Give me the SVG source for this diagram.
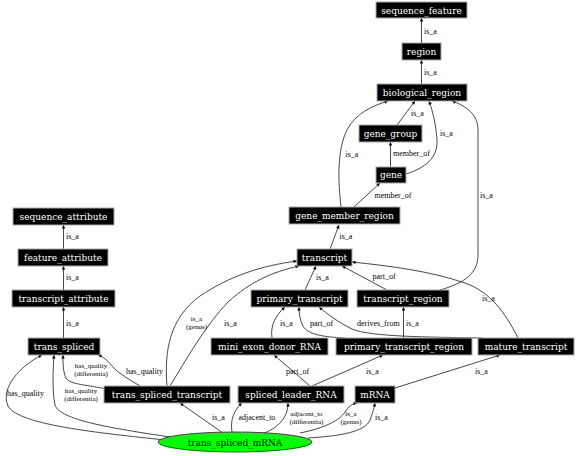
<svg xmlns="http://www.w3.org/2000/svg" width="576" height="456" viewBox="0 0 576 456">
<defs>
<marker id="arr" viewBox="0 0 10 10" refX="10" refY="5" markerWidth="4.5" markerHeight="3.5" markerUnits="userSpaceOnUse" orient="auto">
<path d="M0,0 L10,5 L0,10 z" fill="#000"/>
</marker>
</defs>
<style>
.n rect{fill:#000;stroke:#aaa;stroke-width:1}
.n text{fill:#fff;font-family:"DejaVu Serif",serif;font-size:9px;text-anchor:middle}
.e path{fill:none;stroke:#333;stroke-width:0.9;marker-end:url(#arr)}
.l text{font-family:"Liberation Serif",serif;font-size:8px;fill:#000}
.l .m{text-anchor:middle;font-size:7px}
</style>
<rect width="576" height="456" fill="#fff"/>
<g id="connectors" class="e">
<path d="M421.5,43 L421.5,18"/>
<path d="M421.5,84 L421.5,60"/>
<path d="M397,125 L415,101"/>
<path d="M390.5,167 L390.5,142"/>
<path d="M406,174 C425,168 438,158 437,140 C436,125 433,112 429,101"/>
<path d="M354,207 L380,183"/>
<path d="M341,207 C338,180 337,150 347,130 C356,113 372,106 388,101"/>
<path d="M440,290 C465,283 478,273 478,255 L478,130 C478,114 466,106 452,101"/>
<path d="M330,249 L339,225"/>
<path d="M305,290 L316,266"/>
<path d="M387,290 L342,266"/>
<path d="M518,338 C505,312 490,292 465,283 C430,271 390,266 352,262"/>
<path d="M167,386 C164,350 170,318 200,296 C230,276 260,266 297,261"/>
<path d="M170,386 C186,360 205,326 228,302 C250,282 272,272 299,266"/>
<path d="M272,338 C270,325 276,315 285,307"/>
<path d="M345,338 C325,337 308,335 303,326 C300,320 299,314 299,307"/>
<path d="M403.5,338 L403.5,307"/>
<path d="M482,338 C430,337 370,337 352,329 C338,322 327,314 319,307"/>
<path d="M310,386 L274,355"/>
<path d="M312,386 L383,355"/>
<path d="M395,388 L500,355"/>
<path d="M140,386 C130,380 118,373 113,367 C108,361 104,357 98,355"/>
<path d="M106,389 C90,385 70,385 66,378 C63,372 63,363 63,355"/>
<path d="M165,440 C100,433 18,425 8,406 C0,388 20,366 42,355"/>
<path d="M170,437 C110,428 60,420 55,405 C52,390 53,370 54,355"/>
<path d="M223,433 L180,403"/>
<path d="M232,432 C230,420 234,410 242,403"/>
<path d="M262,434 C278,428 288,418 288,403"/>
<path d="M300,433 C325,428 340,420 345,412 C349,406 352,404 357,403"/>
<path d="M308,438 C340,436 365,432 370,420 C373,412 374,408 375,403"/>
<path d="M63.5,249 L63.5,225"/>
<path d="M63.5,290 L63.5,266"/>
<path d="M63.5,338 L63.5,307"/>
</g>
<g id="labels" class="l">
<text x="424" y="33.5">is_a</text>
<text x="424" y="74.5">is_a</text>
<text x="411" y="115.5">is_a</text>
<text x="440" y="136">is_a</text>
<text x="393" y="156">member_of</text>
<text x="374.5" y="198">member_of</text>
<text x="345.5" y="157">is_a</text>
<text x="480" y="198">is_a</text>
<text x="339.5" y="239">is_a</text>
<text x="316" y="280">is_a</text>
<text x="372.5" y="279">part_of</text>
<text x="482" y="301">is_a</text>
<text class="m" x="196.5" y="320.5">is_a<tspan x="196.5" dy="8">(genus)</tspan></text>
<text x="224" y="325.5">is_a</text>
<text x="280" y="325.5">is_a</text>
<text x="310" y="325.5">part_of</text>
<text x="357" y="325.5">derives_from</text>
<text x="406" y="325.5">is_a</text>
<text x="286" y="373.5">part_of</text>
<text x="366" y="373.5">is_a</text>
<text x="475" y="373.5">is_a</text>
<text x="126" y="373.5">has_quality</text>
<text class="m" x="91" y="368">has_quality<tspan x="91" dy="8">(differentia)</tspan></text>
<text x="7" y="396">has_quality</text>
<text class="m" x="81" y="392.5">has_quality<tspan x="81" dy="8">(differentia)</tspan></text>
<text x="212" y="420">is_a</text>
<text x="238.5" y="420">adjacent_to</text>
<text class="m" x="306.5" y="416">adjacent_to<tspan x="306.5" dy="8">(differentia)</tspan></text>
<text class="m" x="351" y="416">is_a<tspan x="351" dy="8">(genus)</tspan></text>
<text x="375" y="420">is_a</text>
<text x="66" y="239">is_a</text>
<text x="66" y="280">is_a</text>
<text x="66" y="325.5">is_a</text>
</g>
<g id="sequence_feature" class="n"><rect x="376" y="2" width="91" height="16"/><text x="421.5" y="13.5">sequence_feature</text></g>
<g id="region" class="n"><rect x="402" y="43" width="39" height="17"/><text x="421.5" y="54.5">region</text></g>
<g id="biological_region" class="n"><rect x="377" y="84" width="90" height="17"/><text x="422" y="95.5">biological_region</text></g>
<g id="gene_group" class="n"><rect x="359" y="125" width="63" height="17"/><text x="390.5" y="136.5">gene_group</text></g>
<g id="gene" class="n"><rect x="376" y="167" width="30" height="16"/><text x="391" y="178">gene</text></g>
<g id="gene_member_region" class="n"><rect x="289" y="207" width="111" height="17"/><text x="344.5" y="218.5">gene_member_region</text></g>
<g id="transcript" class="n"><rect x="297" y="249" width="55" height="17"/><text x="324.5" y="260.5">transcript</text></g>
<g id="primary_transcript" class="n"><rect x="251" y="290" width="97" height="17"/><text x="299.5" y="301.5">primary_transcript</text></g>
<g id="transcript_region" class="n"><rect x="357" y="290" width="92" height="17"/><text x="403" y="301.5">transcript_region</text></g>
<g id="mini_exon_donor_RNA" class="n"><rect x="211" y="338" width="117" height="17"/><text x="269.5" y="349.5">mini_exon_donor_RNA</text></g>
<g id="primary_transcript_region" class="n"><rect x="336" y="338" width="136" height="17"/><text x="404" y="349.5">primary_transcript_region</text></g>
<g id="mature_transcript" class="n"><rect x="478" y="338" width="96" height="17"/><text x="526" y="349.5">mature_transcript</text></g>
<g id="spliced_leader_RNA" class="n"><rect x="238" y="386" width="106" height="17"/><text x="291" y="397.5">spliced_leader_RNA</text></g>
<g id="mRNA" class="n"><rect x="355" y="386" width="40" height="17"/><text x="375" y="397.5">mRNA</text></g>
<g id="sequence_attribute" class="n"><rect x="13" y="208" width="101" height="17"/><text x="63.5" y="219.5">sequence_attribute</text></g>
<g id="feature_attribute" class="n"><rect x="18" y="249" width="90" height="17"/><text x="63" y="260.5">feature_attribute</text></g>
<g id="transcript_attribute" class="n"><rect x="12" y="290" width="103" height="17"/><text x="63.5" y="301.5">transcript_attribute</text></g>
<g id="trans_spliced" class="n"><rect x="28" y="338" width="72" height="17"/><text x="64" y="349.5">trans_spliced</text></g>
<g id="trans_spliced_transcript" class="n"><rect x="104" y="386" width="126" height="17"/><text x="167" y="397.5">trans_spliced_transcript</text></g>
<g id="trans_spliced_mRNA"><ellipse cx="235" cy="442" rx="77" ry="10" fill="#00ff00" stroke="#333" stroke-width="0.9"/><text x="235" y="445.5" font-family="DejaVu Serif, serif" font-size="9" text-anchor="middle" fill="#000">trans_spliced_mRNA</text></g>
</svg>
